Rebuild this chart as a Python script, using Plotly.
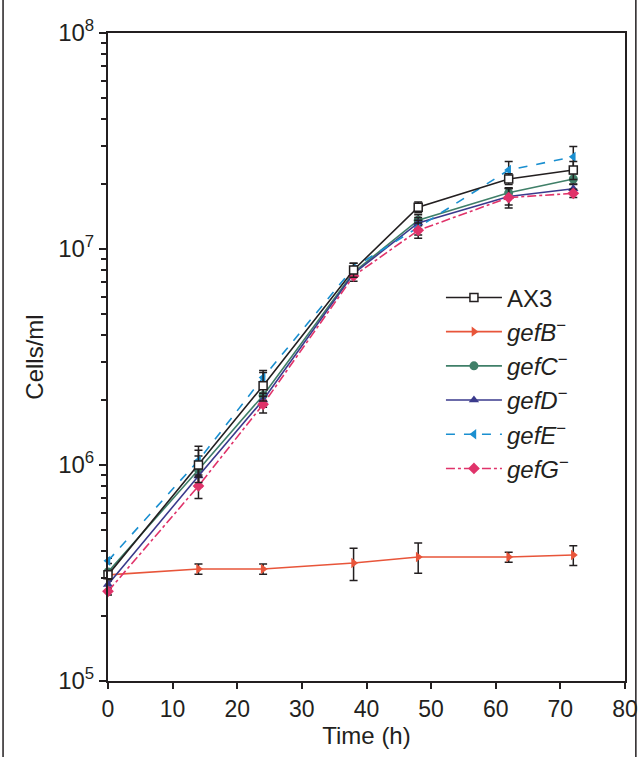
import plotly.graph_objects as go

time_h = [0, 14, 24, 38, 48, 62, 72]

ax3 = [3.1e5, 1.0e6, 2.33e6, 8.0e6, 1.56e7, 2.11e7, 2.32e7]
gefB = [3.1e5, 3.3e5, 3.3e5, 3.52e5, 3.75e5, 3.75e5, 3.83e5]
gefC = [3.2e5, 9.5e5, 2.1e6, 7.8e6, 1.36e7, 1.82e7, 2.11e7]
gefD = [2.8e5, 8.9e5, 2.0e6, 7.7e6, 1.32e7, 1.75e7, 1.90e7]
gefE = [3.6e5, 1.05e6, 2.54e6, 8.2e6, 1.26e7, 2.32e7, 2.67e7]
gefG = [2.6e5, 8.0e5, 1.91e6, 7.5e6, 1.22e7, 1.73e7, 1.81e7]

ax3_err = [1.5e4, 1.7e5, 3.5e5, 6e5, 9e5, 1.2e6, 2.2e6]
gefB_err = [1e4, 1.8e4, 1.8e4, 6e4, 6e4, 2e4, 4e4]
gefC_err = [1e4, 1.5e5, 2e5, 4e5, 8e5, 1.0e6, 1.2e6]
gefD_err = [1e4, 1.0e5, 1.5e5, 3e5, 8e5, 1.5e6, 1.0e6]
gefE_err = [1e4, 1.7e5, 2e5, 4e5, 1.0e6, 2.2e6, 3.1e6]
gefG_err = [1e4, 1.0e5, 1.7e5, 4e5, 1.0e6, 1.8e6, 8e5]

FONT = "Liberation Sans, Arial, sans-serif"
INK = "#231f20"

series = [
    ("<i>gefB</i><sup>−</sup>", gefB, gefB_err, "#e8553a", "solid", "triangle-right", 2),
    ("<i>gefC</i><sup>−</sup>", gefC, gefC_err, "#3f7f68", "solid", "circle", 3),
    ("<i>gefD</i><sup>−</sup>", gefD, gefD_err, "#3a3a8c", "solid", "triangle-up", 4),
    ("<i>gefE</i><sup>−</sup>", gefE, gefE_err, "#1a8fd0", "dash", "triangle-left", 5),
    ("<i>gefG</i><sup>−</sup>", gefG, gefG_err, "#e0336a", "dashdot", "diamond", 6),
]

fig = go.Figure()
for name, vals, err, color, dash, sym, rank in series:
    fig.add_trace(go.Scatter(
        x=time_h, y=vals, name=name, mode="lines+markers",
        line=dict(color=color, width=1.6, dash=dash),
        marker=dict(symbol=sym, size=9, color=color),
        error_y=dict(type="data", array=err, color=INK, thickness=1.5, width=4),
        cliponaxis=False, legendrank=rank,
    ))

fig.add_trace(go.Scatter(
    x=time_h, y=ax3, name="AX3", mode="lines+markers",
    line=dict(color=INK, width=1.6),
    marker=dict(symbol="square", size=8, color="white", line=dict(color=INK, width=1.5)),
    error_y=dict(type="data", array=ax3_err, color=INK, thickness=1.5, width=4),
    cliponaxis=False, legendrank=1,
))

minor_vals = [m * 10 ** e for e in (5, 6, 7) for m in range(2, 10)]

fig.update_layout(
    width=642, height=757,
    margin=dict(l=108, r=17, t=33, b=76),
    paper_bgcolor="white", plot_bgcolor="white",
    font=dict(family=FONT, size=23, color=INK),
    showlegend=True,
    legend=dict(x=0.644, y=0.626, xanchor="left", yanchor="top",
                bgcolor="rgba(0,0,0,0)", font=dict(family=FONT, size=24, color=INK),
                itemwidth=56),
    xaxis=dict(range=[0, 80], tickvals=[0, 10, 20, 30, 40, 50, 60, 70, 80],
               ticks="outside", ticklen=6, tickwidth=1.5, tickcolor=INK,
               tickfont=dict(family=FONT, size=23, color=INK),
               ticklabeloverflow="allow", automargin=False,
               showline=True, linecolor=INK, linewidth=2, mirror=True,
               showgrid=False, zeroline=False,
               title=dict(text="Time (h)", standoff=6, font=dict(family=FONT, size=24, color=INK))),
    yaxis=dict(type="log", range=[5, 8],
               tickvals=[1e5, 1e6, 1e7, 1e8],
               ticktext=["10<sup>5</sup>", "10<sup>6</sup>", "10<sup>7</sup>", "10<sup>8</sup>"],
               ticks="outside", ticklen=7, tickwidth=1.5, tickcolor=INK,
               tickfont=dict(family=FONT, size=24, color=INK),
               automargin=False,
               minor=dict(tickvals=minor_vals, ticks="outside", ticklen=5, tickwidth=1.5,
                          tickcolor=INK, showgrid=False),
               showline=True, linecolor=INK, linewidth=2, mirror=True,
               showgrid=False, zeroline=False,
               title=dict(text="Cells/ml", standoff=8, font=dict(family=FONT, size=24, color=INK))),
    shapes=[
        dict(type="line", xref="paper", yref="paper", x0=-0.203, x1=-0.203, y0=-0.13, y1=1.06,
             line=dict(color=INK, width=1.5)),
        dict(type="line", xref="paper", yref="paper", x0=1.021, x1=1.021, y0=-0.13, y1=1.06,
             line=dict(color=INK, width=1.5)),
    ],
)

fig.write_html("out.html", config={"displayModeBar": False},
               post_script="document.body.style.margin='0';")
